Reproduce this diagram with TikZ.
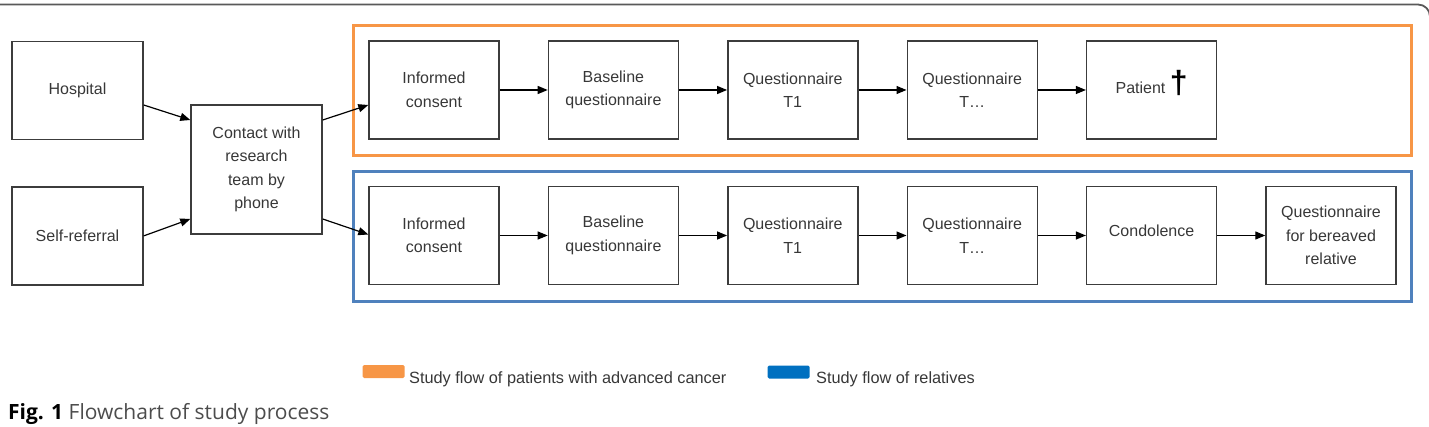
\documentclass[tikz,border=0pt]{standalone}
\usepackage{fontspec}
\setmainfont{Liberation Sans}
\newfontfamily\capfont{Open Sans}
\usepackage{tikz}
\usetikzlibrary{positioning, arrows.meta, calc}
\definecolor{patorange}{RGB}{247,150,70}
\definecolor{relblue}{RGB}{79,129,189}
\definecolor{relswatch}{RGB}{0,112,192}
\definecolor{boxgray}{RGB}{60,60,60}
\definecolor{txtgray}{RGB}{55,55,55}

\begin{document}
\begin{tikzpicture}[
    x=1pt, y=-1pt,
    node distance=48pt,
    box/.style={rectangle, minimum width=130pt, minimum height=98pt, align=center, draw=boxgray, line width=1.4pt, text=txtgray, font=\fontsize{16}{23.5}\selectfont, inner sep=2pt},
    arrow/.style={line width=1.2pt, -{Triangle[length=10pt,width=8pt]}},
    patframe/.style={draw=patorange, line width=3pt},
    relframe/.style={draw=relblue, line width=3pt},
    keybox/.style={minimum width=42pt, minimum height=13pt, rounded corners=1.5pt, inner sep=0pt},
    legtext/.style={font=\fontsize{16.3}{18}\selectfont, text=txtgray, anchor=base west, inner sep=0pt}
]
    \useasboundingbox (0,0) rectangle (1429,427);

    % frame line on top
    \draw[black!65, line width=1.8pt, rounded corners=12pt] (-5,4.5) -- (1430,4.5) -- (1430,40);

    % group frames
    \draw[patframe] (353,25.5) rectangle (1411,155.5);
    \draw[relframe] (353,172) rectangle (1411,302);

    % referral
    \node[box, minimum width=131pt] (hosp) at (77.5,90.5) {\raisebox{-3pt}{Hospital}};
    \node[box, minimum width=131pt, below=46pt of hosp] (self) {\raisebox{-3pt}{Self-referral}};
    \node[box, minimum width=131pt, minimum height=129pt] (contact) at (256.5,169.5) {Contact with\\research\\team by\\phone};

    % patient flow
    \node[box] (pinf) at (434,90) {Informed\\consent};
    \node[box, right=of pinf] (pbase) {Baseline\\questionnaire};
    \node[box, right=of pbase] (pqone) {Questionnaire\\T1};
    \node[box, right=of pqone] (pqdots) {Questionnaire\\T\dots};
    \node[box, right=of pqdots] (pdeath) {\raisebox{4pt}{Patient\ \smash{\color{black}\fontsize{32}{32}\selectfont\bfseries †}}};

    % relative flow
    \node[box] (rinf) at (434,235.5) {Informed\\consent};
    \node[box, right=of rinf] (rbase) {Baseline\\questionnaire};
    \node[box, right=of rbase] (rqone) {Questionnaire\\T1};
    \node[box, right=of rqone] (rqdots) {Questionnaire\\T\dots};
    \node[box, right=of rqdots] (rcond) {\raisebox{9pt}{Condolence}};
    \node[box, right=of rcond] (rbereaved) {Questionnaire\\for bereaved\\relative};

    \draw[arrow] ([yshift=-14.5pt]hosp.east) -- ([yshift=49.5pt]contact.west);
    \draw[arrow] (self.east) -- ([yshift=-49.5pt]contact.west);
    \draw[arrow] ([yshift=49.5pt]contact.east) -- ([yshift=-15pt]pinf.west);
    \draw[arrow] ([yshift=-49.5pt]contact.east) -- ([yshift=1pt]rinf.west);

    \draw[arrow] (pinf) -- (pbase);
    \draw[arrow] (pbase) -- (pqone);
    \draw[arrow] (pqone) -- (pqdots);
    \draw[arrow] (pqdots) -- (pdeath);

    \draw[arrow] (rinf) -- (rbase);
    \draw[arrow] (rbase) -- (rqone);
    \draw[arrow] (rqone) -- (rqdots);
    \draw[arrow] (rqdots) -- (rcond);
    \draw[arrow] (rcond) -- (rbereaved);

    % legend
    \node[keybox, fill=patorange] (patkey) at (383.5,371.5) {};
    \node[legtext] (pattext) at (409,383) {Study flow of patients with advanced cancer};
    \node[keybox, fill=relswatch] (relkey) at (788.5,372) {};
    \node[legtext] (reltext) at (816,383) {Study flow of relatives};

    % caption
    \node[anchor=base west, inner sep=0pt, font=\capfont\fontsize{21}{24}\selectfont] (caption) at (8,419)
        {\textbf{Fig. 1} \textcolor{black!70}{Flowchart of study process}};
\end{tikzpicture}
\end{document}
